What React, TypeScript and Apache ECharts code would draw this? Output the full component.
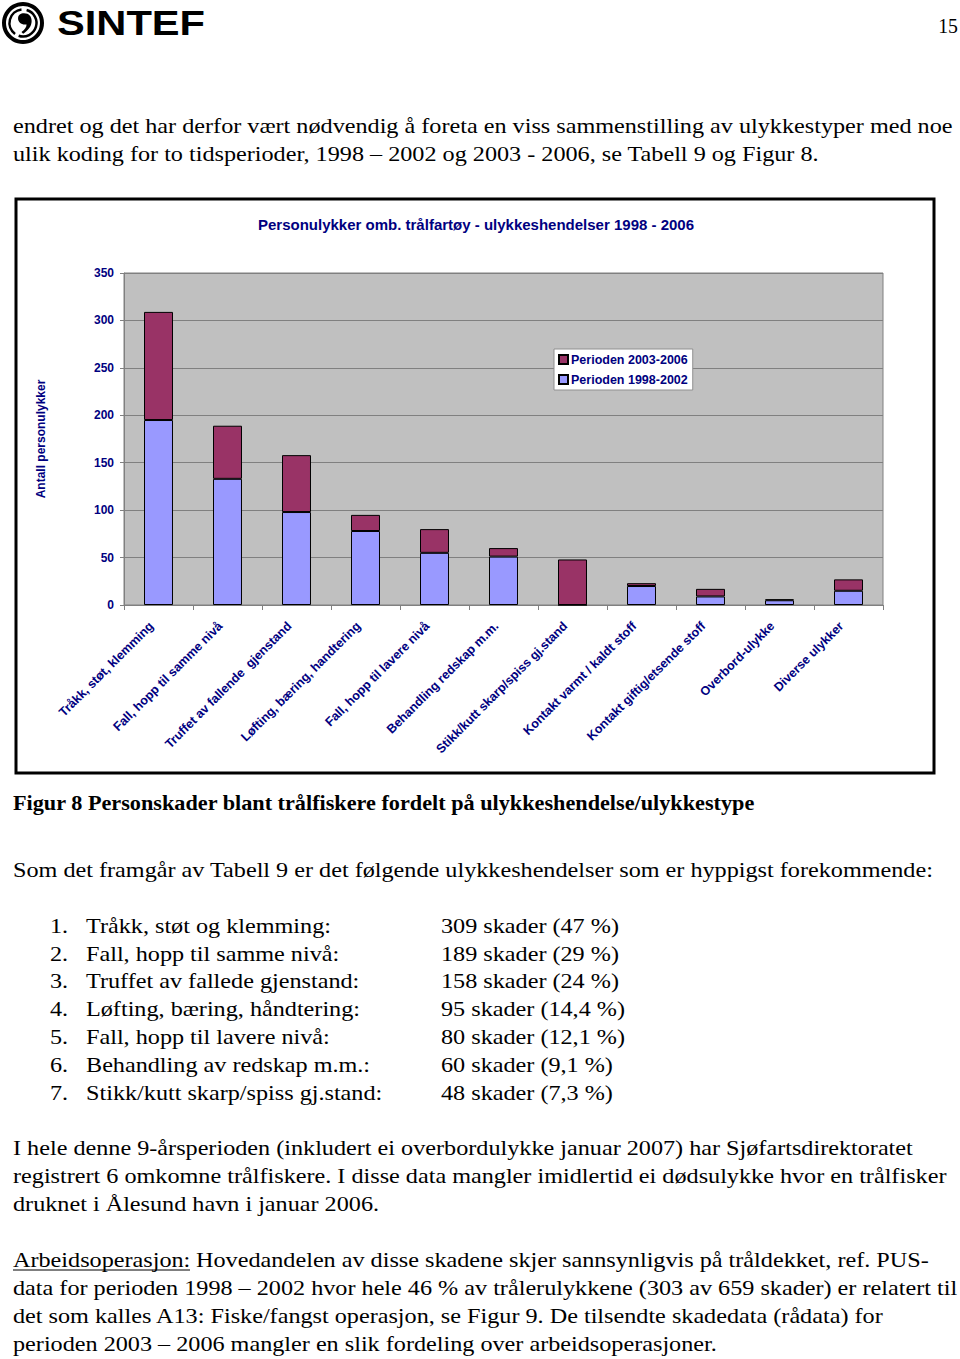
import React, { useEffect, useRef } from "react";
import * as echarts from "echarts";

const categories = [
  "Tråkk, støt, klemming",
  "Fall, hopp til samme nivå",
  "Truffet av fallende  gjenstand",
  "Løfting, bæring, handtering",
  "Fall, hopp til lavere nivå",
  "Behandling redskap m.m.",
  "Stikk/kutt skarp/spiss gj.stand",
  "Kontakt varmt / kaldt stoff",
  "Kontakt giftig/etsende stoff",
  "Overbord-ulykke",
  "Diverse ulykker",
];
const period1998 = [195, 133, 98, 78, 55, 51, 0, 20, 9, 5, 15];
const period2003 = [114, 56, 60, 17, 25, 9, 48, 3, 8, 1, 12];
const seriesNames = ["Perioden 2003-2006", "Perioden 1998-2002"];
const chartTitle = "Personulykker omb. trålfartøy - ulykkeshendelser 1998 - 2006";
const yAxisTitle = "Antall personulykker";

const introLines = [
  "endret og det har derfor vært nødvendig å foreta en viss sammenstilling av ulykkestyper med noe",
  "ulik koding for to tidsperioder, 1998 – 2002 og 2003 - 2006, se Tabell 9 og Figur 8.",
];
const captionText = "Figur 8 Personskader blant trålfiskere fordelt på ulykkeshendelse/ulykkestype";
const leadText = "Som det framgår av Tabell 9 er det følgende ulykkeshendelser som er hyppigst forekommende:";
const listNumbers = ["1.", "2.", "3.", "4.", "5.", "6.", "7."];
const listLabels = [
  "Tråkk, støt og klemming:",
  "Fall, hopp til samme nivå:",
  "Truffet av fallede gjenstand:",
  "Løfting, bæring, håndtering:",
  "Fall, hopp til lavere nivå:",
  "Behandling av redskap m.m.:",
  "Stikk/kutt skarp/spiss gj.stand:",
];
const listValues = [
  "309 skader (47 %)",
  "189 skader (29 %)",
  "158 skader (24 %)",
  "95 skader (14,4 %)",
  "80 skader (12,1 %)",
  "60 skader (9,1 %)",
  "48 skader (7,3 %)",
];
const para2Lines = [
  "I hele denne 9-årsperioden (inkludert ei overbordulykke januar 2007) har Sjøfartsdirektoratet",
  "registrert 6 omkomne trålfiskere. I disse data mangler imidlertid ei dødsulykke hvor en trålfisker",
  "druknet i Ålesund havn i januar 2006.",
];
const para3Underlined = "Arbeidsoperasjon:";
const para3First = " Hovedandelen av disse skadene skjer sannsynligvis på tråldekket, ref. PUS-";
const para3Lines = [
  "data for perioden 1998 – 2002 hvor hele 46 % av trålerulykkene (303 av 659 skader) er relatert til",
  "det som kalles A13: Fiske/fangst operasjon, se Figur 9. De tilsendte skadedata (rådata) for",
  "perioden 2003 – 2006 mangler en slik fordeling over arbeidsoperasjoner.",
];

const NAVY = "#000080";
const SANS = "'Liberation Sans', Arial, sans-serif";
const SERIF = "'Liberation Serif', 'Times New Roman', serif";
const BODY_SIZE = 22;
const BODY_SX = 1.1;
const BOLD_SX = 1.01;

function bodyText(text: string, x: number, y: number, bold = false) {
  return {
    type: "text",
    x,
    y: y - 1,
    scaleX: bold ? BOLD_SX : BODY_SX,
    style: {
      x: 0,
      y: 0,
      text,
      fill: "#000",
      font: `${bold ? "bold " : ""}${BODY_SIZE}px ${SERIF}`,
      align: "left",
      verticalAlign: "middle",
    },
  };
}

export default function App() {
  const ref = useRef<HTMLDivElement>(null);
  useEffect(() => {
    if (!ref.current) return;
    const chart = echarts.init(ref.current, null, { renderer: "svg" });

    const logoD =
      "M0,-9 C6,-9 9,-5 9,0 C9,6 5,11 -1,15 L-3,13 C1,10 3,7 3,4 C-3,5 -7,1 -7,-3 C-7,-7 -4,-9 0,-9 Z";
    echarts.graphic.registerShape("sintefComma", echarts.graphic.extendPath(logoD, {}) as any);

    const graphics: any[] = [];
    graphics.push({
      type: "rect",
      z: -10,
      shape: { x: 16, y: 199, width: 918, height: 574 },
      style: { fill: "#fff", stroke: "#000", lineWidth: 3 },
    });
    graphics.push({ type: "ring", shape: { cx: 23, cy: 23, r: 21, r0: 17 }, style: { fill: "#000" } });
    graphics.push({
      type: "arc",
      shape: { cx: 23, cy: 23, r: 13.5, startAngle: -1.3, endAngle: 1.9 },
      style: { stroke: "#000", lineWidth: 2.5, fill: "none" },
    });
    graphics.push({
      type: "arc",
      shape: { cx: 23, cy: 23, r: 13.5, startAngle: 2.2, endAngle: 4.6 },
      style: { stroke: "#000", lineWidth: 2.5, fill: "none" },
    });
    graphics.push({ type: "sintefComma", x: 24, y: 21, scaleX: 0.85, scaleY: 0.85, style: { fill: "#000" } });
    graphics.push({
      type: "text",
      x: 57,
      y: 23,
      scaleX: 1.19,
      style: { x: 0, y: 0, text: "SINTEF", font: `bold 35px ${SANS}`, fill: "#000", verticalAlign: "middle" },
    });
    graphics.push({
      type: "text",
      x: 958,
      y: 26,
      scaleX: 0.9,
      style: { x: 0, y: 0, text: "15", font: `22px ${SERIF}`, fill: "#000", align: "right", verticalAlign: "middle" },
    });

    graphics.push({
      type: "text",
      x: 476,
      y: 224,
      style: {
        x: 0,
        y: 0,
        text: chartTitle,
        font: `bold 15px ${SANS}`,
        fill: NAVY,
        align: "center",
        verticalAlign: "middle",
      },
    });

    introLines.forEach((t, i) => graphics.push(bodyText(t, 13, 126 + i * 28)));
    graphics.push(bodyText(captionText, 13, 804, true));
    graphics.push(bodyText(leadText, 13, 870));
    listNumbers.forEach((t, i) => {
      const y = 926 + i * 27.9;
      graphics.push(bodyText(t, 50, y));
      graphics.push(bodyText(listLabels[i], 86, y));
      graphics.push(bodyText(listValues[i], 441, y));
    });
    para2Lines.forEach((t, i) => graphics.push(bodyText(t, 13, 1148 + i * 28)));
    graphics.push(bodyText(para3Underlined, 13, 1260));
    graphics.push({
      type: "line",
      shape: { x1: 13, y1: 1270, x2: 190, y2: 1270 },
      style: { stroke: "#000", lineWidth: 1.2 },
    });
    graphics.push(bodyText(para3First, 190, 1260));
    para3Lines.forEach((t, i) => graphics.push(bodyText(t, 13, 1288 + i * 28)));

    const axisLabelStyle = { color: NAVY, fontFamily: SANS, fontWeight: "bold", fontSize: 12 };

    chart.setOption({
      animation: false,
      backgroundColor: "#fff",
      graphic: graphics,
      legend: {
        data: seriesNames,
        orient: "vertical",
        left: 554,
        top: 349,
        backgroundColor: "#fff",
        borderColor: "#909090",
        borderWidth: 1,
        padding: [4, 5, 4, 4],
        itemWidth: 9,
        itemHeight: 9,
        itemGap: 7,
        icon: "rect",
        textStyle: { ...axisLabelStyle, fontSize: 12.5, padding: [0, 0, 0, -2] },
      },
      grid: {
        left: 124,
        top: 273,
        width: 759,
        height: 332,
        show: true,
        backgroundColor: "#C0C0C0",
        borderColor: "#808080",
        borderWidth: 1,
      },
      xAxis: {
        type: "category",
        data: categories,
        axisLine: { lineStyle: { color: "#808080", width: 1 } },
        axisTick: { show: true, length: 5, lineStyle: { color: "#808080" } },
        axisLabel: { ...axisLabelStyle, fontSize: 12.5, rotate: 45, interval: 0, margin: 12, padding: [0, 10, 0, 0] },
      },
      yAxis: {
        type: "value",
        min: 0,
        max: 350,
        interval: 50,
        name: yAxisTitle,
        nameLocation: "middle",
        nameGap: 77,
        nameTextStyle: { ...axisLabelStyle },
        axisLine: { show: true, lineStyle: { color: "#808080" } },
        axisTick: { show: true, length: 4, lineStyle: { color: "#808080" } },
        axisLabel: { ...axisLabelStyle, margin: 10 },
        splitLine: { show: true, lineStyle: { color: "#808080", width: 1 } },
      },
      series: [
        {
          name: seriesNames[1],
          type: "bar",
          stack: "total",
          data: period1998,
          barWidth: "42%",
          itemStyle: { color: "#9999FF", borderColor: "#000", borderWidth: 1 },
        },
        {
          name: seriesNames[0],
          type: "bar",
          stack: "total",
          data: period2003,
          barWidth: "42%",
          itemStyle: { color: "#993366", borderColor: "#000", borderWidth: 1 },
        },
      ],
    });
    return () => chart.dispose();
  }, []);
  return (
    <div
      ref={ref}
      style={{ position: "absolute", left: 0, top: 0, width: 960, height: 1359, background: "#fff" }}
    />
  );
}
